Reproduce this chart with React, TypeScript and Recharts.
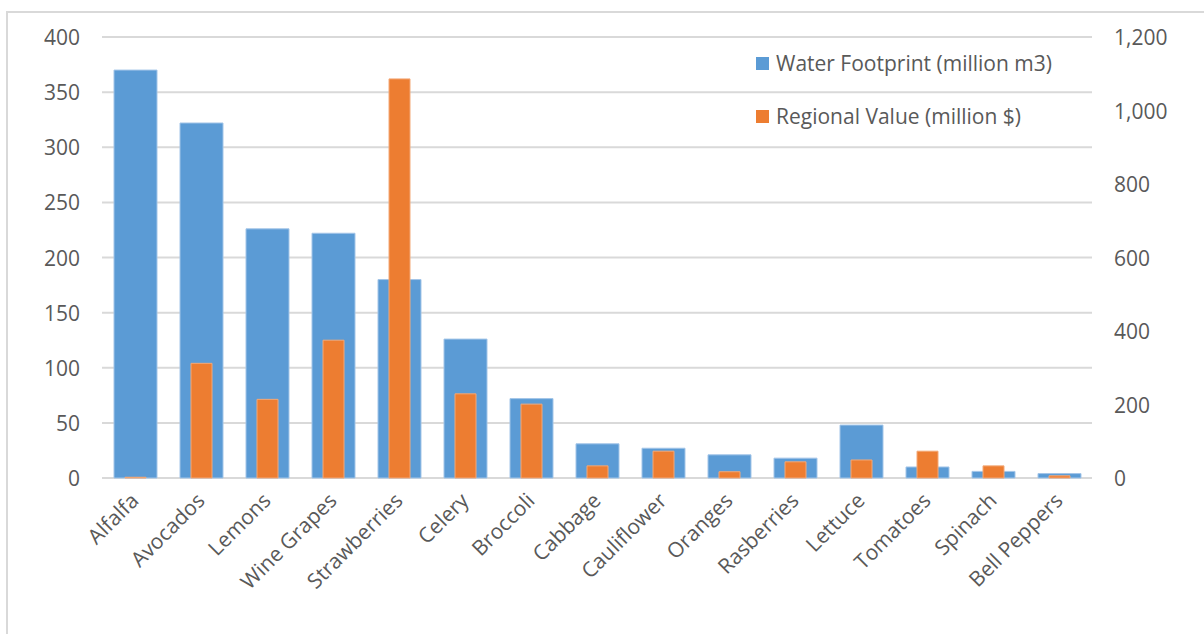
import { Bar, BarChart, CartesianGrid, Legend, XAxis, YAxis } from "recharts";

const crops = [
  "Alfalfa",
  "Avocados",
  "Lemons",
  "Wine Grapes",
  "Strawberries",
  "Celery",
  "Broccoli",
  "Cabbage",
  "Cauliflower",
  "Oranges",
  "Rasberries",
  "Lettuce",
  "Tomatoes",
  "Spinach",
  "Bell Peppers",
];

// million m3, left axis
const waterFootprint = [370, 322, 226, 222, 180, 126, 72, 31, 27, 21, 18, 48, 10, 6, 4];
// million $, right axis
const regionalValue = [2, 312, 214, 375, 1086, 229, 201, 33, 73, 17, 44, 49, 73, 33, 6];

const leftTicks = [0, 50, 100, 150, 200, 250, 300, 350, 400];
const rightTicks = [0, 200, 400, 600, 800, 1000, 1200];

const seriesNames = ["Water Footprint (million m3)", "Regional Value (million $)"];

const BLUE = "#5b9bd5";
const ORANGE = "#ed7d31";
const GRID = "#d9d9d9";
const TEXT = "#595959";
const FONT = "'Open Sans', 'Noto Sans', sans-serif";
const FONT_SIZE = 21;

const data = crops.map((crop, i) => ({
  crop,
  water: waterFootprint[i],
  value: regionalValue[i],
}));

const LeftTick = ({ x, y, payload }: any) => (
  <text x={x - 22} y={y} textAnchor="end" dominantBaseline="central" fill={TEXT} fontSize={FONT_SIZE} fontFamily={FONT}>
    {payload.value}
  </text>
);

const RightTick = ({ x, y, payload }: any) => (
  <text x={x + 22} y={y} textAnchor="start" dominantBaseline="central" fill={TEXT} fontSize={FONT_SIZE} fontFamily={FONT}>
    {payload.value.toLocaleString("en-US")}
  </text>
);

// category names run up to the right, ending just past the bar centre
const CropTick = ({ x, y, payload }: any) => {
  const px = x + 5;
  const py = y - 6;
  return (
    <text
      x={px}
      y={py}
      textAnchor="end"
      fill={TEXT}
      fontSize={FONT_SIZE}
      fontFamily={FONT}
      transform={`rotate(-45, ${px}, ${py})`}
    >
      {payload.value}
    </text>
  );
};

const renderLegend = () => (
  <div style={{ fontFamily: FONT, fontSize: FONT_SIZE, color: TEXT }}>
    {seriesNames.map((name, i) => (
      <div
        key={name}
        style={{ display: "flex", alignItems: "center", height: 26, marginBottom: 27, whiteSpace: "nowrap" }}
      >
        <span style={{ width: 13, height: 13, background: i === 0 ? BLUE : ORANGE, marginRight: 7 }} />
        <span>{name}</span>
      </div>
    ))}
  </div>
);

export default function App() {
  return (
    <div
      style={{
        position: "absolute",
        left: 0,
        top: 0,
        width: 1204,
        height: 634,
        overflow: "hidden",
        background: "#fff",
      }}
    >
      <div
        style={{
          position: "absolute",
          left: 10,
          top: -26,
          whiteSpace: "nowrap",
          fontFamily: "'Liberation Serif', serif",
          fontWeight: "bold",
          fontSize: 24,
          color: "#000",
        }}
      >
        Figure 4. Top 15 Crops' Water Footprint, and their Regional Value
      </div>
      <div
        style={{
          position: "absolute",
          left: 6,
          top: 11,
          width: 1300,
          height: 700,
          border: `2px solid ${GRID}`,
        }}
      />
      <div style={{ position: "absolute", left: 0, top: 0 }}>
        <BarChart
          width={1204}
          height={634}
          data={data}
          margin={{ top: 37, right: 12, bottom: 16, left: 12 }}
        >
          <CartesianGrid
            xAxisId="wf"
            yAxisId="left"
            vertical={false}
            stroke={GRID}
            strokeWidth={2}
          />
          <XAxis
            xAxisId="wf"
            dataKey="crop"
            height={140}
            interval={0}
            axisLine={false}
            tickLine={false}
            tickSize={0}
            tickMargin={0}
            tick={<CropTick />}
          />
          <XAxis xAxisId="rv" dataKey="crop" hide />
          <YAxis
            yAxisId="left"
            width={90}
            domain={[0, 400]}
            ticks={leftTicks}
            axisLine={false}
            tickLine={false}
            tickSize={0}
            tickMargin={0}
            tick={<LeftTick />}
          />
          <YAxis
            yAxisId="right"
            orientation="right"
            width={100}
            domain={[0, 1200]}
            ticks={rightTicks}
            axisLine={false}
            tickLine={false}
            tickSize={0}
            tickMargin={0}
            tick={<RightTick />}
          />
          <Legend
            layout="horizontal"
            align="center"
            verticalAlign="middle"
            content={renderLegend}
            wrapperStyle={{ left: 756, top: 50, width: 340 }}
          />
          <Bar
            xAxisId="wf"
            yAxisId="left"
            dataKey="water"
            name={seriesNames[0]}
            fill={BLUE}
            stroke="#a3c5e8"
            strokeWidth={1}
            barSize={43}
            isAnimationActive={false}
          />
          <Bar
            xAxisId="rv"
            yAxisId="right"
            dataKey="value"
            name={seriesNames[1]}
            fill={ORANGE}
            stroke="#f3a978"
            strokeWidth={1}
            barSize={21}
            isAnimationActive={false}
          />
        </BarChart>
      </div>
    </div>
  );
}
